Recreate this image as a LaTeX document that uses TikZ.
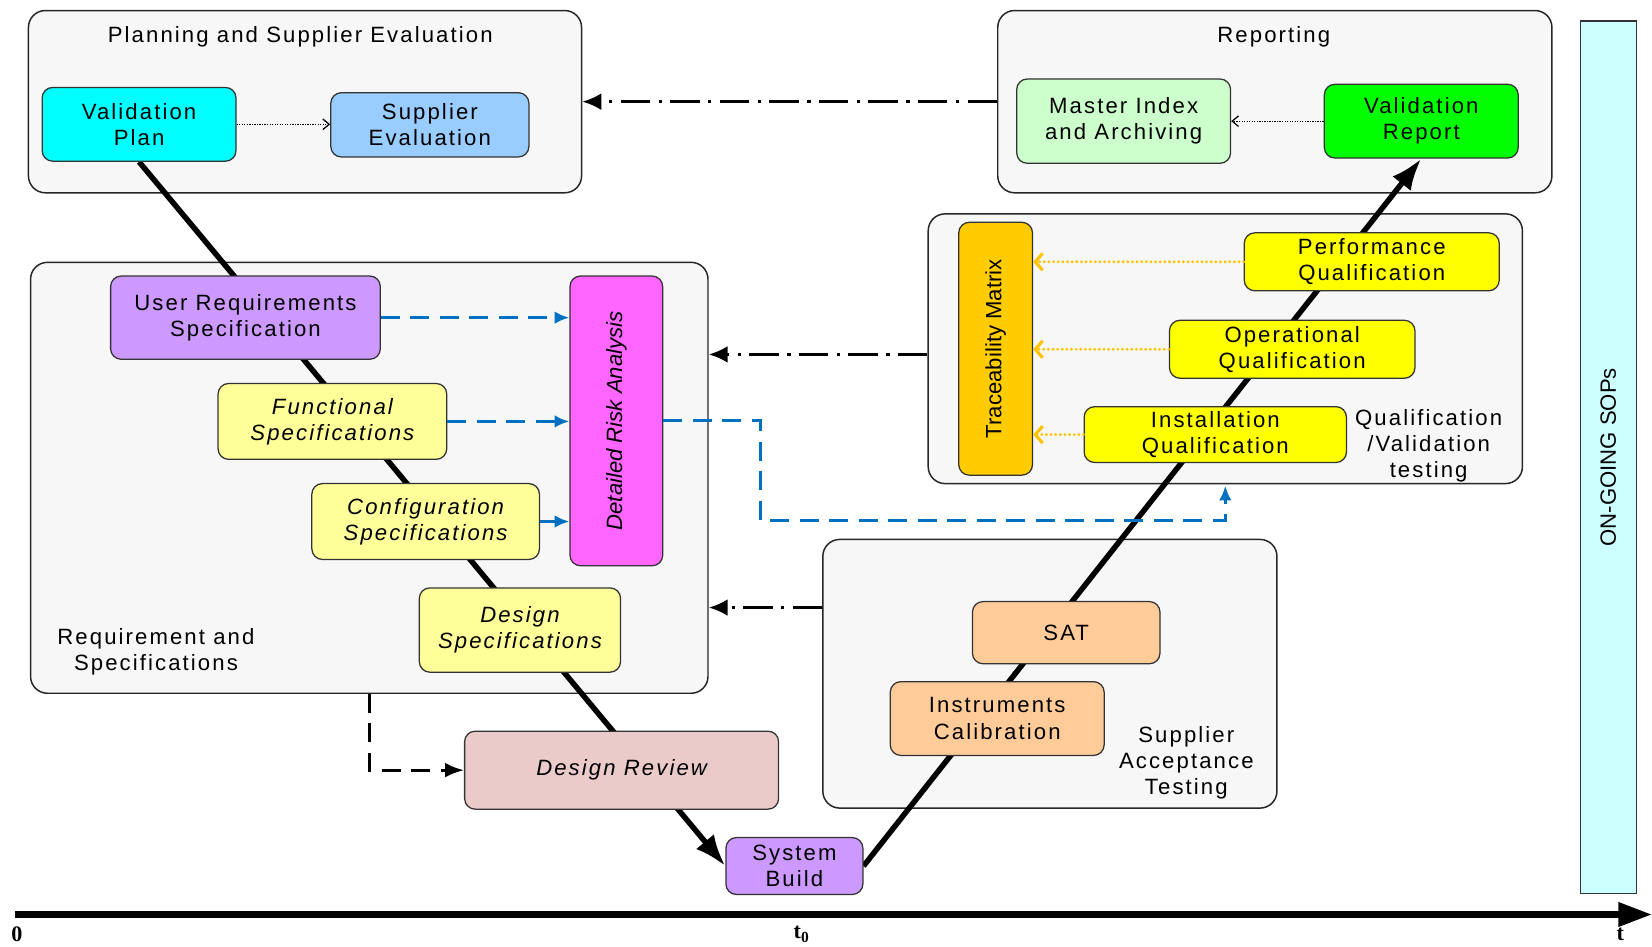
\documentclass[tikz,border=0pt]{standalone}
\usepackage{fontspec}
\setmainfont{Liberation Sans}[LetterSpace=9.5]
\newfontfamily\rotfont{Liberation Sans}
\newfontfamily\axisfont{Liberation Serif}
\usetikzlibrary{arrows.meta,fit,calc}
\pgfdeclarelayer{grp}
\pgfdeclarelayer{mid}
\pgfsetlayers{grp,mid,main}
\definecolor{cgrp}{HTML}{F7F7F7}
\definecolor{cvp}{HTML}{00FFFF}
\definecolor{cse}{HTML}{99CCFF}
\definecolor{cmi}{HTML}{CCFFCC}
\definecolor{cvr}{HTML}{00FF00}
\definecolor{curs}{HTML}{CC99FF}
\definecolor{cspec}{HTML}{FFFF99}
\definecolor{cdra}{HTML}{FF66FF}
\definecolor{ctm}{HTML}{FFCC00}
\definecolor{cq}{HTML}{FFFF00}
\definecolor{csat}{HTML}{FFCC99}
\definecolor{cdr}{HTML}{EBCACA}
\definecolor{csop}{HTML}{CCFFFF}
\definecolor{cblue}{HTML}{0070C0}
\definecolor{cyel}{HTML}{FFC400}
\begin{document}
\begin{tikzpicture}[x=0.5pt,y=-0.5pt,
  font=\fontsize{10.5}{12.4}\selectfont,
  grpbox/.style={draw=black!85, fill=cgrp, rounded corners=8pt, inner sep=0pt, line width=0.7pt},
  box/.style={draw=black!80, rounded corners=5pt, inner sep=0pt, align=center, line width=0.6pt},
  itbox/.style={box, font=\fontsize{10.5}{12.4}\selectfont\itshape},
  lbl/.style={align=center, inner sep=0pt},
  vline/.style={line width=2.6pt, -{Latex[length=15pt,width=11pt]}},
  dashdot/.style={line width=1.3pt, dash pattern=on 14pt off 4pt on 1.5pt off 4pt, -{Latex[length=9pt,width=8pt]}},
  bluedash/.style={draw=cblue, line width=1.5pt, dash pattern=on 9pt off 5pt, -{Latex[length=7pt,width=6pt]}},
  yeldot/.style={draw=cyel, line width=1.5pt, line cap=round, dash pattern=on 0pt off 2.2pt, -{Straight Barb[length=3.5pt,width=8pt,line cap=butt]}},
  thindot/.style={line width=0.6pt, dash pattern=on 0.6pt off 0.6pt, -{Straight Barb[length=3pt,width=5pt]}},
  blackdash/.style={line width=1.3pt, dash pattern=on 9pt off 5pt, -{Latex[length=9pt,width=7pt]}}
]
\useasboundingbox (0,0) rectangle (1568,898);

% group boxes
\begin{pgfonlayer}{grp}
\node[grpbox, fit={(27,10)(552,183)}] (plan) {};
\node[grpbox, fit={(947,10)(1473,183)}] (rep) {};
\node[grpbox, fit={(29,249)(672,658)}] (req) {};
\node[grpbox, fit={(881,203)(1445,459)}] (qual) {};
\node[grpbox, fit={(781,512)(1212,767)}] (satg) {};
\end{pgfonlayer}

% group labels
\node[lbl] (plant) at (285,35) {Planning and Supplier Evaluation};
\node[lbl] (rept) at (1209,35) {Reporting};
\node[lbl] (reqt) at (148,619) {Requirement and\\Specifications};
\node[lbl] (qualt) at (1356,423) {Qualification\\/Validation\\testing};
\node[lbl] (satt) at (1126,724) {Supplier\\Acceptance\\Testing};

% inner boxes
\node[box, fill=cvp, minimum width=92pt, minimum height=35pt] (vp) at (132,118) {Validation\\Plan};
\node[box, fill=cse, minimum width=94pt, minimum height=30.5pt] (se) at (408,118.5) {Supplier\\Evaluation};
\node[box, fill=cmi, minimum width=101.5pt, minimum height=40pt] (mi) at (1066.5,115) {Master Index\\and Archiving};
\node[box, fill=cvr, minimum width=92pt, minimum height=35pt] (vr) at (1349,115) {Validation\\Report};
\node[box, fill=curs, minimum width=128pt, minimum height=39.5pt] (urs) at (233,301.5) {User Requirements\\Specification};
\node[itbox, fill=cspec, minimum width=108.5pt, minimum height=36pt] (fs) at (315.5,400) {Functional\\Specifications};
\node[itbox, fill=cspec, minimum width=108pt, minimum height=36pt] (cs) at (404,495) {Configuration\\Specifications};
\node[itbox, fill=cspec, minimum width=95.5pt, minimum height=40pt] (ds) at (493.5,598) {Design\\Specifications};
\node[box, fill=cdra, minimum width=44pt, minimum height=137.5pt] (dra) at (585,399.5) {};
\node[lbl, rotate=90, font=\rotfont\fontsize{10.5}{12.4}\selectfont\itshape] (drat) at (dra.center) {Detailed Risk Analysis};
\node[box, fill=ctm, minimum width=35pt, minimum height=120pt] (tm) at (945,331) {};
\node[lbl, rotate=90, font=\rotfont\fontsize{10.5}{12.4}\selectfont] (tmt) at (tm.center) {Traceability Matrix};
\node[box, fill=cq, minimum width=121pt, minimum height=27.5pt] (pq) at (1302,248.5) {Performance\\Qualification};
\node[box, fill=cq, minimum width=116.5pt, minimum height=27.5pt] (oq) at (1226.5,331.5) {Operational\\Qualification};
\node[box, fill=cq, minimum width=124.5pt, minimum height=26.5pt] (iq) at (1153.5,412.5) {Installation\\Qualification};
\node[box, fill=csat, minimum width=89pt, minimum height=29.5pt] (sat) at (1012,600.5) {SAT};
\node[box, fill=csat, minimum width=101.5pt, minimum height=35pt] (ic) at (946.5,682) {Instruments\\Calibration};
\node[itbox, fill=cdr, minimum width=149pt, minimum height=37pt] (dr) at (590,731) {Design Review};
\node[box, fill=curs, minimum width=65pt, minimum height=27pt] (sb) at (754,822) {System\\Build};
\node[draw=black!80, fill=csop, line width=0.6pt, inner sep=0pt, minimum width=26.5pt, minimum height=414pt] (sop) at (1526.5,434) {};
\node[lbl, rotate=90, font=\rotfont\fontsize{10.5}{12.4}\selectfont] (sopt) at (sop.center) {ON-GOING SOPs};

% V line
\begin{pgfonlayer}{mid}
\draw[vline] (vp.south) -- (sb.west);
\draw[vline] (sb.east) -- (vr.south);
\end{pgfonlayer}

% thin dotted arrows
\draw[thindot] (vp.east) -- (vp.east -| se.west);
\draw[thindot] (vr.west) -- (vr.west -| mi.east);

% dash-dot arrows between groups
\draw[dashdot] (rep.west) -- (plan.east);
\draw[dashdot] ($(qual.north west)!0.521!(qual.south west)$) coordinate (qa) -- (qa -| req.east);
\draw[dashdot] ($(satg.north west)!0.255!(satg.south west)$) coordinate (sa) -- (sa -| req.east);

% blue dashed arrows
\draw[bluedash] (urs.east) -- (urs.east -| dra.west);
\draw[bluedash] (fs.east) -- (fs.east -| dra.west);
\draw[bluedash] (cs.east) -- (cs.east -| dra.west);
\coordinate (bend1) at (722,494);
\coordinate (qtip) at (1163,461);
\draw[bluedash] (dra.east) -| (bend1) -| (qtip);

% yellow dotted arrows
\draw[yeldot] (pq.west) -- (pq.west -| tm.east);
\draw[yeldot] (oq.west) -- (oq.west -| tm.east);
\draw[yeldot] (iq.west) -- (iq.west -| tm.east);

% black dashed to design review
\draw[blackdash] (req.south) |- (dr.west);

% time axis
\coordinate (ax0) at (14,868);
\coordinate (ax1) at (1568,868);
\draw[line width=3pt, -{Triangle[length=16pt,width=11pt]}] (ax0) -- (ax1);
\node[lbl, font=\axisfont\bfseries\fontsize{10.5}{12}\selectfont] (l0) at (16,887) {0};
\node[lbl, font=\axisfont\bfseries\fontsize{10.5}{12}\selectfont] (lt0) at (761,887) {t\textsubscript{0}};
\node[lbl, font=\axisfont\bfseries\fontsize{10.5}{12}\selectfont] (lt) at (1538,887) {t};
\end{tikzpicture}
\end{document}
